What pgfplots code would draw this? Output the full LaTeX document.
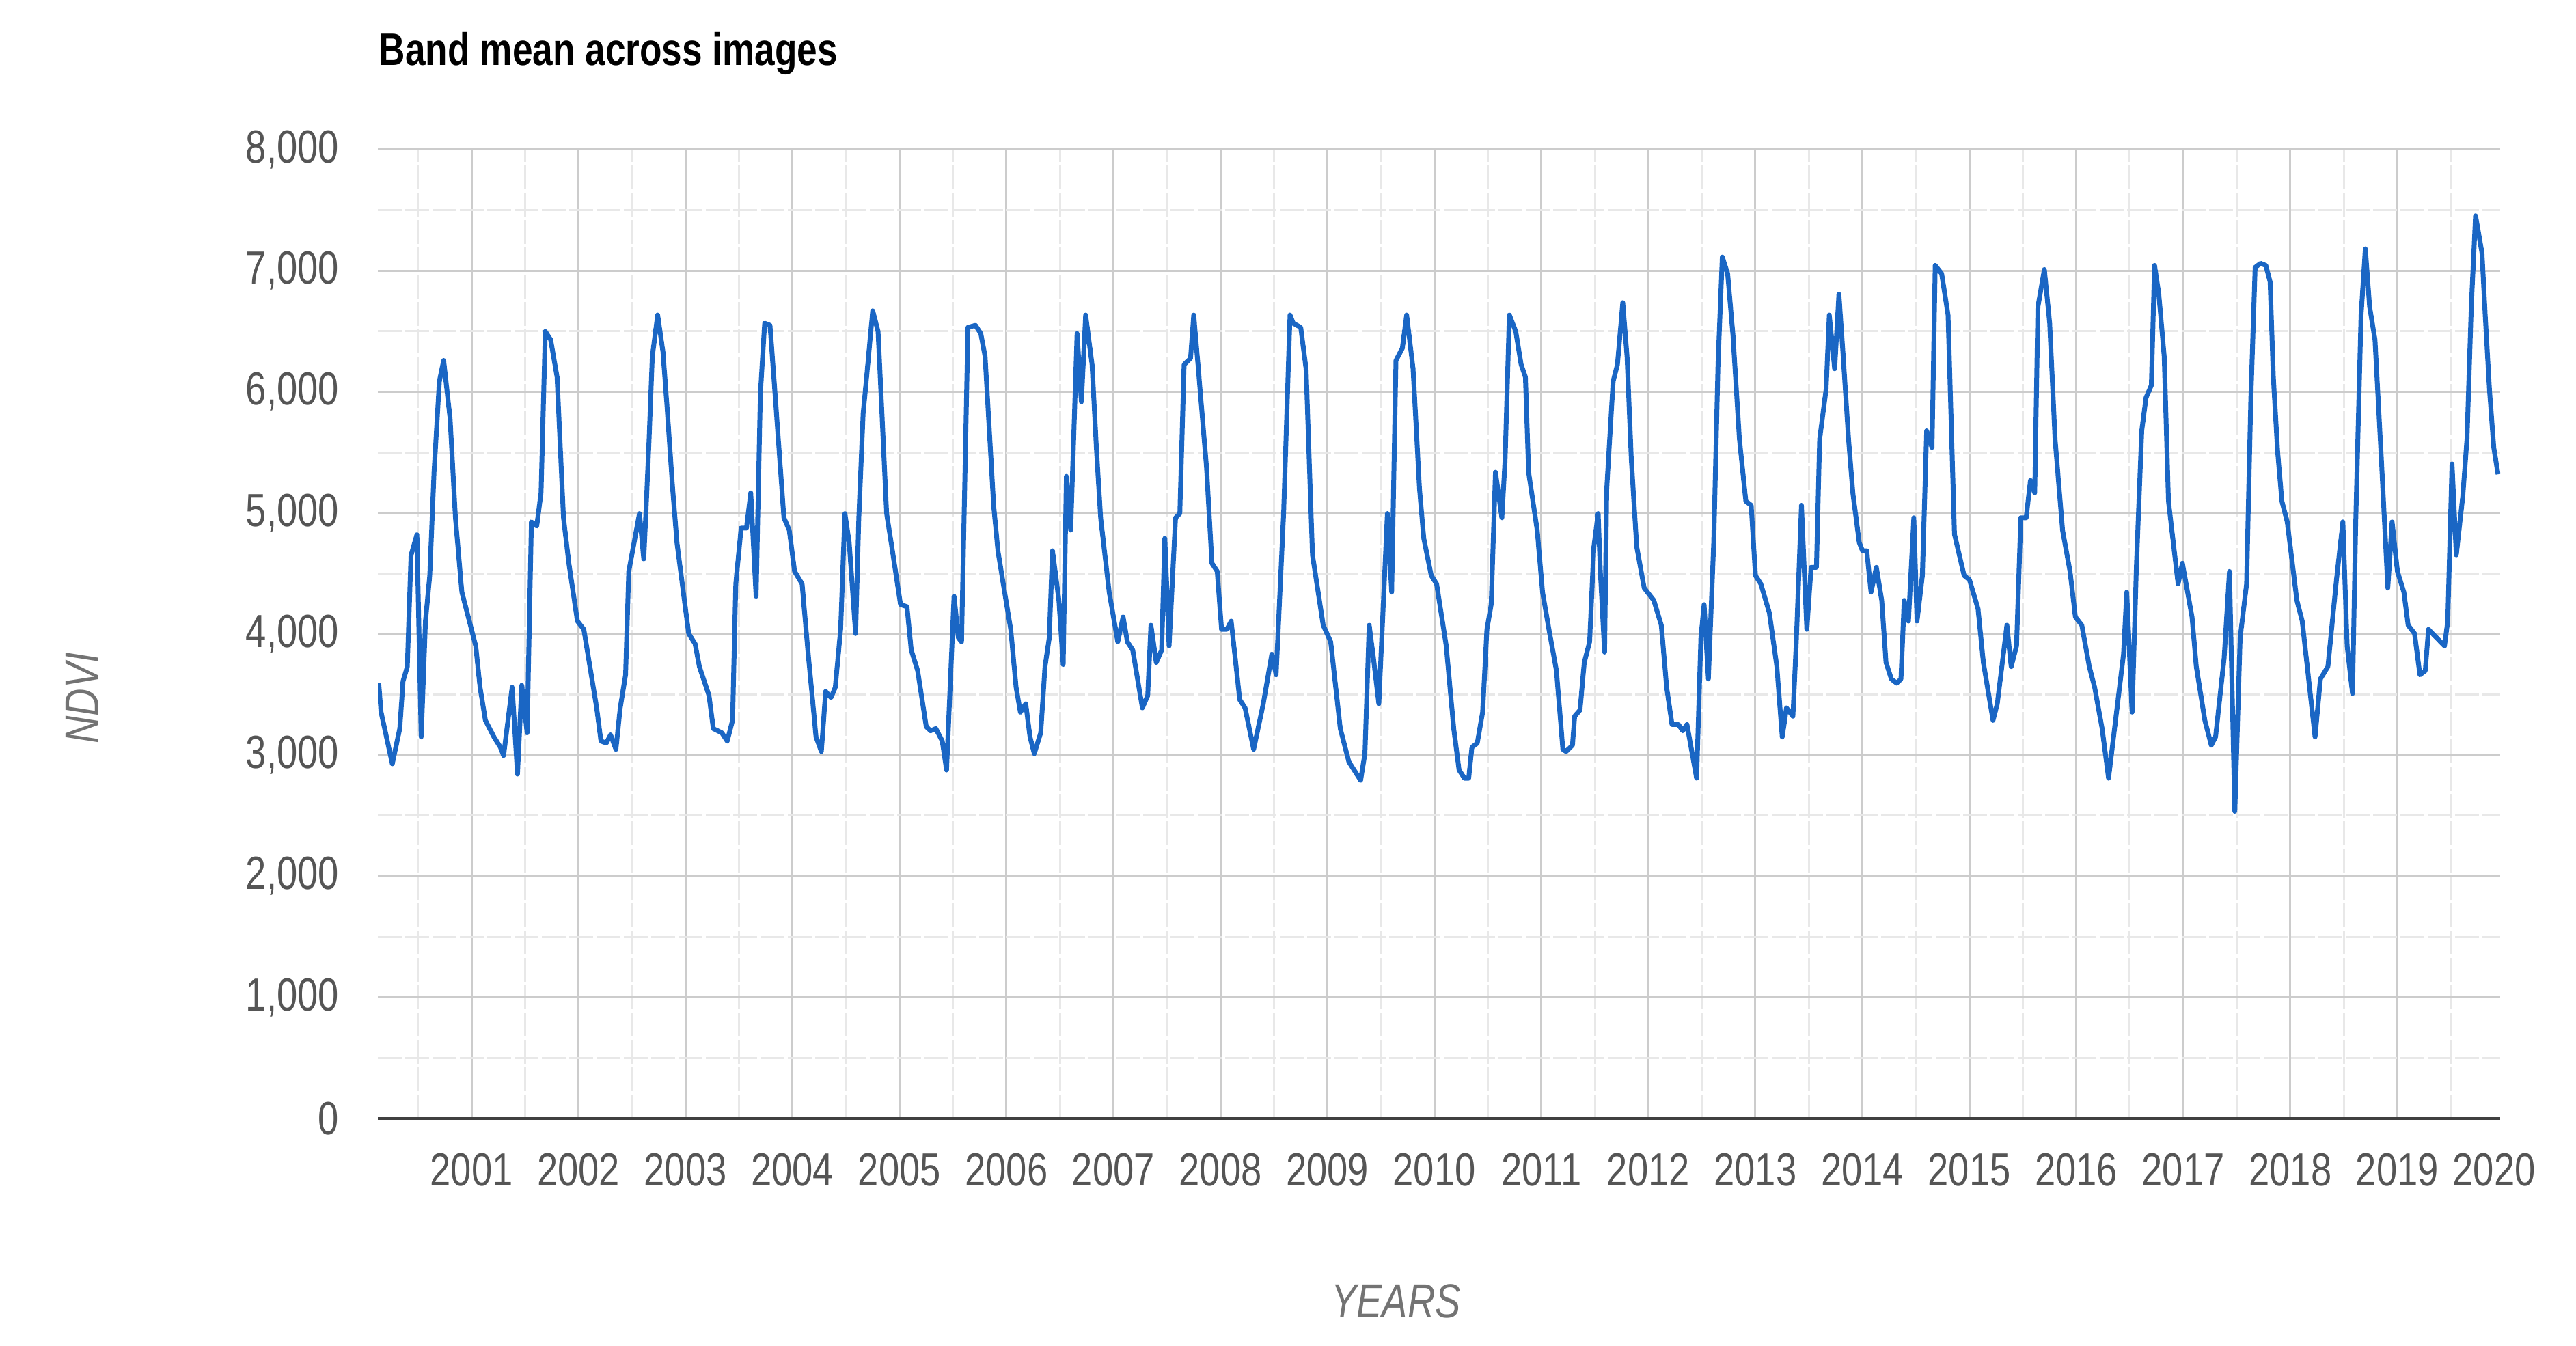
\documentclass[border=0pt]{standalone}
\usepackage{fontspec}
\setmainfont{Liberation Sans}[FakeStretch=0.8]
\usepackage{pgfplots}
\usepackage{pgfplotstable}
\pgfplotsset{compat=1.18}
\definecolor{lineblue}{RGB}{26,102,196}
\definecolor{ticktext}{RGB}{85,85,85}
\definecolor{titlegray}{RGB}{115,115,115}
\definecolor{majgrid}{RGB}{204,204,204}
\definecolor{mingrid}{RGB}{232,232,232}

\pgfplotstableread{
x y
2000.133 3594
2000.155 3355
2000.26 2928
2000.33 3220
2000.36 3610
2000.40 3730
2000.435 4650
2000.49 4820
2000.53 3150
2000.57 4107
2000.61 4483
2000.65 5336
2000.70 6088
2000.74 6259
2000.80 5780
2000.85 4960
2000.91 4346
2000.98 4107
2001.04 3900
2001.08 3560
2001.13 3287
2001.21 3150
2001.27 3065
2001.30 2997
2001.38 3560
2001.43 2843
2001.47 3577
2001.52 3184
2001.56 4926
2001.61 4892
2001.65 5166
2001.69 6498
2001.74 6430
2001.80 6122
2001.86 4960
2001.91 4585
2001.99 4107
2002.05 4038
2002.17 3390
2002.21 3116
2002.26 3100
2002.30 3167
2002.35 3048
2002.39 3390
2002.44 3663
2002.47 4517
2002.52 4756
2002.57 4995
2002.61 4620
2002.63 4995
2002.66 5610
2002.69 6293
2002.74 6634
2002.79 6327
2002.83 5849
2002.88 5200
2002.92 4756
2002.97 4414
2003.03 4004
2003.09 3919
2003.13 3731
2003.22 3492
2003.26 3219
2003.34 3184
2003.39 3116
2003.44 3287
2003.47 4414
2003.52 4875
2003.57 4875
2003.61 5166
2003.66 4312
2003.70 5986
2003.74 6566
2003.79 6549
2003.84 5951
2003.92 4960
2003.97 4858
2004.02 4517
2004.09 4414
2004.14 3902
2004.22 3150
2004.27 3030
2004.31 3526
2004.36 3475
2004.40 3560
2004.45 4038
2004.49 4995
2004.53 4756
2004.59 4004
2004.62 4960
2004.66 5815
2004.70 6190
2004.75 6669
2004.80 6498
2004.84 5746
2004.88 4995
2004.94 4653
2005.01 4243
2005.07 4226
2005.11 3868
2005.17 3697
2005.25 3236
2005.29 3201
2005.34 3219
2005.40 3116
2005.44 2877
2005.51 4312
2005.55 3970
2005.58 3936
2005.64 6532
2005.71 6549
2005.76 6481
2005.80 6293
2005.88 5063
2005.92 4688
2005.97 4414
2006.04 4038
2006.09 3560
2006.13 3355
2006.18 3424
2006.22 3150
2006.26 3013
2006.32 3184
2006.36 3731
2006.40 3970
2006.43 4688
2006.49 4278
2006.53 3748
2006.56 5302
2006.60 4858
2006.66 6481
2006.70 5917
2006.74 6634
2006.80 6225
2006.84 5541
2006.88 4960
2006.96 4346
2007.04 3936
2007.09 4141
2007.13 3936
2007.18 3868
2007.27 3390
2007.32 3492
2007.35 4073
2007.40 3765
2007.45 3868
2007.48 4790
2007.52 3902
2007.58 4960
2007.62 4995
2007.66 6225
2007.72 6276
2007.75 6634
2007.79 6225
2007.87 5371
2007.92 4585
2007.97 4517
2008.01 4038
2008.06 4038
2008.10 4107
2008.18 3458
2008.23 3390
2008.31 3048
2008.40 3424
2008.48 3834
2008.52 3663
2008.59 4995
2008.65 6634
2008.68 6566
2008.75 6532
2008.80 6190
2008.86 4653
2008.96 4073
2009.03 3936
2009.12 3219
2009.20 2945
2009.31 2792
2009.35 3013
2009.39 4073
2009.43 3800
2009.48 3424
2009.56 4995
2009.60 4346
2009.64 6259
2009.70 6361
2009.74 6634
2009.80 6190
2009.86 5200
2009.90 4790
2009.97 4483
2010.02 4414
2010.11 3902
2010.18 3219
2010.23 2877
2010.28 2809
2010.32 2809
2010.35 3065
2010.40 3099
2010.45 3355
2010.49 4038
2010.53 4243
2010.57 5336
2010.63 4960
2010.66 5439
2010.70 6634
2010.76 6498
2010.81 6225
2010.85 6122
2010.88 5336
2010.96 4858
2011.01 4346
2011.07 4038
2011.14 3697
2011.20 3048
2011.23 3030
2011.29 3082
2011.31 3321
2011.36 3372
2011.40 3765
2011.45 3936
2011.49 4722
2011.53 4995
2011.55 4517
2011.59 3851
2011.61 5200
2011.67 6088
2011.71 6225
2011.76 6737
2011.80 6293
2011.84 5439
2011.89 4722
2011.96 4380
2012.05 4278
2012.12 4073
2012.17 3560
2012.22 3253
2012.28 3253
2012.32 3201
2012.36 3253
2012.45 2809
2012.49 3970
2012.52 4243
2012.56 3629
2012.61 4756
2012.65 6225
2012.69 7113
2012.74 6976
2012.79 6464
2012.85 5610
2012.91 5097
2012.96 5063
2013.00 4483
2013.05 4414
2013.13 4175
2013.20 3731
2013.25 3150
2013.29 3390
2013.35 3321
2013.38 3902
2013.43 5063
2013.48 4038
2013.52 4551
2013.57 4551
2013.60 5610
2013.66 6020
2013.69 6634
2013.74 6190
2013.78 6805
2013.82 6293
2013.87 5610
2013.91 5166
2013.97 4756
2014.00 4688
2014.04 4688
2014.08 4346
2014.13 4551
2014.18 4278
2014.22 3765
2014.27 3629
2014.32 3594
2014.36 3629
2014.39 4278
2014.43 4107
2014.48 4960
2014.51 4107
2014.56 4483
2014.60 5678
2014.65 5541
2014.68 7044
2014.74 6976
2014.80 6634
2014.86 4824
2014.95 4483
2015.00 4448
2015.08 4209
2015.13 3765
2015.22 3287
2015.26 3424
2015.35 4073
2015.39 3731
2015.44 3902
2015.48 4960
2015.53 4960
2015.57 5268
2015.61 5166
2015.64 6703
2015.70 7010
2015.75 6566
2015.80 5610
2015.87 4858
2015.94 4517
2015.99 4141
2016.05 4073
2016.12 3731
2016.17 3560
2016.24 3219
2016.30 2809
2016.37 3321
2016.44 3834
2016.47 4346
2016.52 3355
2016.56 4551
2016.61 5678
2016.65 5951
2016.70 6054
2016.73 7044
2016.77 6805
2016.82 6293
2016.86 5097
2016.95 4414
2016.99 4585
2017.08 4141
2017.12 3731
2017.20 3287
2017.26 3082
2017.30 3150
2017.38 3800
2017.43 4517
2017.48 2536
2017.53 3970
2017.59 4414
2017.63 5951
2017.67 7027
2017.72 7061
2017.77 7044
2017.81 6908
2017.84 6122
2017.88 5507
2017.92 5097
2017.97 4926
2018.06 4278
2018.11 4107
2018.23 3150
2018.28 3629
2018.35 3731
2018.43 4448
2018.49 4926
2018.53 3902
2018.58 3509
2018.61 4926
2018.66 6634
2018.70 7181
2018.74 6703
2018.79 6430
2018.85 5439
2018.91 4380
2018.95 4926
2019.00 4517
2019.06 4346
2019.10 4073
2019.16 4004
2019.21 3663
2019.26 3697
2019.29 4038
2019.44 3902
2019.47 4107
2019.51 5405
2019.55 4653
2019.61 5132
2019.65 5610
2019.69 6703
2019.73 7454
2019.79 7147
2019.82 6634
2019.86 6020
2019.90 5541
2019.94 5319
}\ndvitable

\begin{document}
\begin{tikzpicture}
\path[use as bounding box] (-55.3pt,-33.3pt) rectangle (321.7pt,163.7pt);
\begin{axis}[
  at={(0pt,0pt)}, anchor=south west,
  scale only axis, width=310.6pt, height=141.8pt,
  xmin=2000.125, xmax=2019.96, ymin=0, ymax=8000,
  xtick={2001,2002,...,2019},
  ytick={0,1000,...,8000},
  minor xtick={2000.5,2001.5,...,2019.5},
  minor ytick={500,1500,...,7500},
  grid=both,
  major grid style={draw=majgrid, line width=0.3pt},
  minor grid style={draw=mingrid, line width=0.3pt, dash pattern=on 3.5pt off 0.5pt},
  major tick length=0pt, minor tick length=0pt,
  axis lines*=left,
  y axis line style={draw=none},
  x axis line style={draw=black!75, line width=0.4pt},
  /pgf/number format/assume math mode=true,
  tick label style={font=\fontsize{6.8}{8}\selectfont, text=ticktext, inner sep=0pt},
  xticklabel style={anchor=north, yshift=-4.9pt, /pgf/number format/1000 sep={}},
  yticklabel style={anchor=east, xshift=-5.5pt},
]
\addplot[draw=lineblue, line width=0.7pt, line join=round, no markers] table[x=x, y=y] {\ndvitable};
\end{axis}
\node[anchor=west, inner sep=0pt, font=\bfseries\fontsize{6.65}{8}\selectfont] at (0pt,155.8pt) {Band mean across images};
\node[inner sep=0pt, font=\itshape\fontsize{7}{8}\selectfont, text=titlegray] at (149pt,-26.7pt) {YEARS};
\node[inner sep=0pt, rotate=90, font=\itshape\fontsize{7}{8}\selectfont, text=titlegray] at (-43.3pt,61.5pt) {NDVI};
\node[anchor=north, inner sep=0pt, font=\fontsize{6.8}{8}\selectfont, text=ticktext] at (309.7pt,-4.9pt) {2020};
\end{tikzpicture}
\end{document}
